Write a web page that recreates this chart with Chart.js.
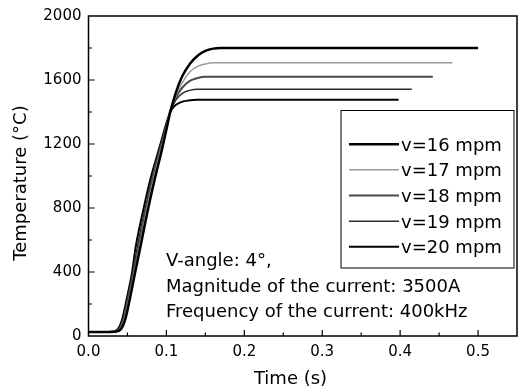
<!DOCTYPE html>
<html>
<head>
<meta charset="utf-8">
<script src="https://cdn.jsdelivr.net/npm/chart.js@4"></script>
<style>
  html, body { margin: 0; padding: 0; background: #fff; }
  #wrap { width: 524px; height: 390px; }
</style>
</head>
<body>
<div id="wrap"><canvas id="tempChart"></canvas></div>
<script>
// temperature histories, one pair of arrays per speed
const seriesLabels = ['v=16 mpm', 'v=17 mpm', 'v=18 mpm', 'v=19 mpm', 'v=20 mpm'];

const v16Time = [0, 0.034, 0.042, 0.047, 0.053, 0.06, 0.066, 0.075, 0.085, 0.094, 0.1, 0.105, 0.112, 0.12, 0.13, 0.14, 0.15, 0.16, 0.17, 0.5];
const v16Temp = [25, 27, 45, 100, 230, 400, 540, 760, 980, 1160, 1290, 1400, 1520, 1620, 1700, 1752, 1782, 1796, 1800, 1800];

const v17Time = [0, 0.033, 0.041, 0.046, 0.052, 0.059, 0.065, 0.074, 0.084, 0.093, 0.1, 0.105, 0.112, 0.12, 0.13, 0.14, 0.15, 0.16, 0.467];
const v17Temp = [25, 27, 45, 100, 230, 400, 540, 770, 990, 1165, 1300, 1405, 1500, 1580, 1650, 1685, 1700, 1708, 1708];

const v18Time = [0, 0.032, 0.04, 0.045, 0.051, 0.058, 0.064, 0.073, 0.083, 0.092, 0.1, 0.105, 0.112, 0.12, 0.13, 0.14, 0.15, 0.442];
const v18Temp = [25, 27, 45, 100, 230, 400, 540, 775, 995, 1165, 1310, 1410, 1490, 1550, 1595, 1612, 1620, 1620];

const v19Time = [0, 0.031, 0.039, 0.044, 0.05, 0.057, 0.062, 0.072, 0.082, 0.091, 0.1, 0.105, 0.112, 0.12, 0.13, 0.14, 0.415];
const v19Temp = [25, 27, 45, 100, 230, 400, 540, 780, 1000, 1165, 1320, 1405, 1475, 1515, 1535, 1542, 1542];

const v20Time = [0, 0.03, 0.038, 0.043, 0.049, 0.056, 0.06, 0.07, 0.08, 0.09, 0.1, 0.105, 0.11, 0.118, 0.128, 0.14, 0.398];
const v20Temp = [25, 27, 45, 100, 230, 400, 540, 780, 990, 1160, 1330, 1400, 1435, 1460, 1472, 1477, 1477];

const noteLines = ['V-angle: 4°,', 'Magnitude of the current: 3500A', 'Frequency of the current: 400kHz'];

const FONT = '"DejaVu Sans", sans-serif';

function toPoints(times, temps) {
    return times.map((t, i) => ({ x: t, y: temps[i] }));
}

const lineColors = ['#000000', '#9a9a9a', '#4a4a4a', '#2a2a2a', '#000000'];
const lineWidths = [2.5, 1.5, 2, 1.5, 2];
const allSeries = [
    toPoints(v16Time, v16Temp),
    toPoints(v17Time, v17Temp),
    toPoints(v18Time, v18Temp),
    toPoints(v19Time, v19Temp),
    toPoints(v20Time, v20Temp)
];

// frame, inward ticks, legend box, axis titles and the note text
const decorPlugin = {
    id: 'decor',
    afterDraw(chart) {
        const ctx = chart.ctx;
        const area = chart.chartArea;
        const xs = chart.scales.x;
        const ys = chart.scales.y;
        ctx.save();

        ctx.strokeStyle = '#000';
        ctx.lineWidth = 1.5;
        ctx.strokeRect(area.left, area.top, area.right - area.left, area.bottom - area.top);

        ctx.lineWidth = 1.2;
        ctx.beginPath();
        xs.ticks.forEach(t => {
            if (t.value <= xs.min || t.value >= xs.max) return;
            const px = xs.getPixelForValue(t.value);
            const len = t.label ? 6 : 3.5;
            ctx.moveTo(px, area.bottom);
            ctx.lineTo(px, area.bottom - len);
        });
        ys.ticks.forEach(t => {
            if (t.value <= ys.min || t.value >= ys.max) return;
            const py = ys.getPixelForValue(t.value);
            const len = t.label ? 6 : 3.5;
            ctx.moveTo(area.left, py);
            ctx.lineTo(area.left + len, py);
        });
        ctx.stroke();

        // legend
        const box = { left: 341, top: 110.5, right: 514, bottom: 268 };
        ctx.lineWidth = 1;
        ctx.fillStyle = '#fff';
        ctx.fillRect(box.left, box.top, box.right - box.left, box.bottom - box.top);
        ctx.strokeRect(box.left, box.top, box.right - box.left, box.bottom - box.top);
        ctx.font = '18px ' + FONT;
        ctx.textAlign = 'left';
        ctx.textBaseline = 'alphabetic';
        chart.data.datasets.forEach((ds, i) => {
            const base = 150.7 + i * 25.65;
            ctx.strokeStyle = ds.borderColor;
            ctx.lineWidth = ds.borderWidth;
            ctx.beginPath();
            ctx.moveTo(349, base - 6.5);
            ctx.lineTo(399, base - 6.5);
            ctx.stroke();
            ctx.fillStyle = '#000';
            ctx.fillText(ds.label, 401, base);
        });

        // note
        ctx.fillStyle = '#000';
        noteLines.forEach((line, i) => {
            ctx.fillText(line, 166, 266 + i * 25.7);
        });

        // axis titles
        ctx.textAlign = 'center';
        ctx.fillText('Time (s)', 290.5, 384);
        ctx.translate(26, 183);
        ctx.rotate(-Math.PI / 2);
        ctx.fillText('Temperature (°C)', 0, 0);

        ctx.restore();
    }
};

new Chart(document.getElementById('tempChart'), {
    type: 'line',
    data: {
        datasets: allSeries.map((pts, i) => ({
            label: seriesLabels[i],
            data: pts,
            borderColor: lineColors[i],
            borderWidth: lineWidths[i],
            pointRadius: 0,
            fill: false,
            cubicInterpolationMode: 'monotone'
        }))
    },
    options: {
        responsive: true,
        maintainAspectRatio: false,
        animation: false,
        layout: { padding: { top: 16, right: 3, left: 0, bottom: 0 } },
        plugins: {
            legend: { display: false },
            tooltip: { enabled: false }
        },
        scales: {
            x: {
                type: 'linear',
                min: 0,
                max: 0.55,
                grid: { display: false, drawTicks: false },
                border: { display: false },
                ticks: {
                    stepSize: 0.05,
                    autoSkip: false,
                    maxRotation: 0,
                    padding: 7,
                    color: '#000',
                    font: { family: FONT, size: 15 },
                    callback: v => (Math.round(v * 100) % 10 === 0 && v < 0.54) ? v.toFixed(1) : ''
                },
                afterFit: scale => { scale.height = 54; }
            },
            y: {
                min: 0,
                max: 2000,
                grid: { display: false, drawTicks: false },
                border: { display: false },
                ticks: {
                    stepSize: 200,
                    autoSkip: false,
                    padding: 7,
                    color: '#000',
                    font: { family: FONT, size: 15 },
                    callback: v => (v % 400 === 0) ? String(v) : ''
                },
                afterFit: scale => { scale.width = 88.5; }
            }
        }
    },
    plugins: [decorPlugin]
});
</script>
</body>
</html>
